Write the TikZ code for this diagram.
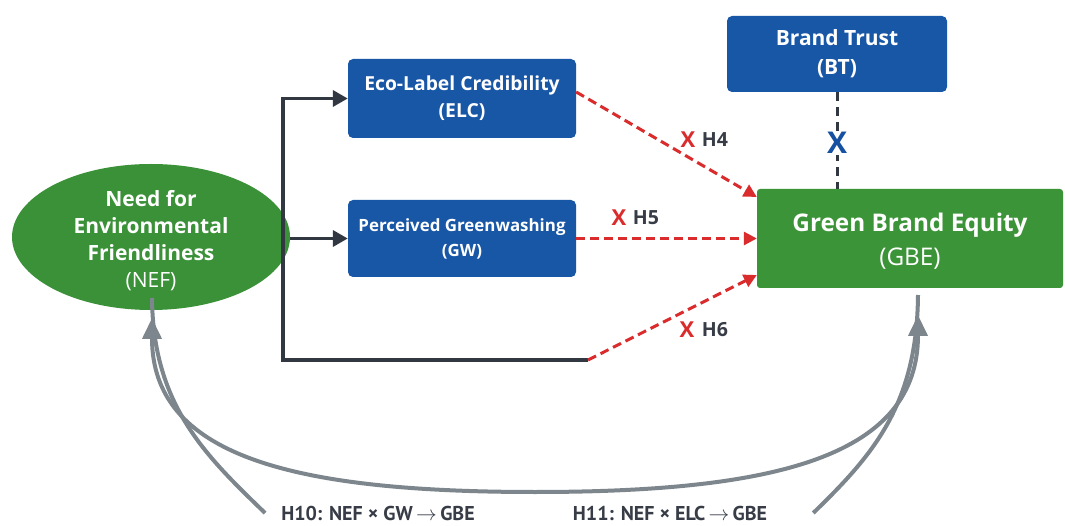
\documentclass[tikz,border=0pt]{standalone}
\usepackage{fontspec}
\setmainfont{Open Sans}
\newfontfamily\ptsans{PT Sans}
\usetikzlibrary{arrows.meta,shapes.geometric}
\definecolor{boxblue}{RGB}{24,86,166}
\definecolor{nefgreen}{RGB}{58,145,56}
\definecolor{gbegreen}{RGB}{60,148,56}
\definecolor{darkline}{RGB}{50,56,66}
\definecolor{redline}{RGB}{218,44,44}
\definecolor{grayline}{RGB}{125,134,140}
\definecolor{labeltext}{RGB}{55,60,70}
\definecolor{xblue}{RGB}{22,80,160}
\begin{document}
\begin{tikzpicture}[x=1pt,y=-1pt,
  bluebox/.style={fill=boxblue, rounded corners=5pt, text=white, align=center, inner sep=0pt},
  greenbox/.style={fill=gbegreen, rounded corners=3pt, text=white, align=center, inner sep=0pt},
  darkarrow/.style={draw=darkline, line width=3.5pt, line join=miter, -{Triangle[length=15pt,width=16pt]}},
  redarrow/.style={draw=redline, line width=3pt, dash pattern=on 9pt off 5pt, -{Triangle[length=13pt,width=13pt]}},
  grayarrow/.style={draw=grayline, line width=4pt},
  redx/.style={text=redline, font=\bfseries\fontsize{22}{22}\selectfont, inner sep=0pt},
  hlabel/.style={text=labeltext, font=\bfseries\fontsize{19.5}{19.5}\selectfont, inner sep=0pt},
  botlabel/.style={text=labeltext, font=\ptsans\bfseries\fontsize{20}{20}\selectfont, inner sep=0pt}
]
\useasboundingbox[fill=white] (0,0) rectangle (1065,526);

% nodes
\node[ellipse, fill=nefgreen, minimum width=278pt, minimum height=146pt, inner sep=0pt] (nef) at (151,237) {};
\node[text=white, align=center, inner sep=0pt, font=\fontsize{21}{27}\selectfont] (neftext) at (151,241)
  {\textbf{Need for}\\\textbf{Environmental}\\\textbf{Friendliness}\\(NEF)};

\node[bluebox, minimum width=228pt, minimum height=79pt, font=\bfseries\fontsize{19.3}{27}\selectfont] (elc) at (462,98.5)
  {Eco-Label Credibility\\(ELC)};
\node[bluebox, minimum width=228pt, minimum height=77pt, font=\bfseries\fontsize{16.9}{25}\selectfont] (gw) at (462,238.5)
  {Perceived Greenwashing\\(GW)};
\node[bluebox, minimum width=220pt, minimum height=76pt, font=\bfseries\fontsize{21}{29}\selectfont] (bt) at (837,54)
  {Brand Trust\\(BT)};
\node[greenbox, minimum width=306pt, minimum height=99pt] (gbe) at (910,238.5) {};
\node[text=white, align=center, inner sep=0pt, font=\fontsize{24.3}{34}\selectfont] (gbetext) at (910,241.5)
  {\textbf{Green Brand Equity}\\(GBE)};

% coordinates for the NEF spine
\coordinate (spinetop) at (283,98.5);
\coordinate (spinebot) at (283,360);
\coordinate (h6start) at (588,360);
\coordinate (nefin) at (152,318);
\coordinate (gbein) at (918,315);

% dark connectors
\draw[darkarrow] (h6start) -- (spinebot) -- (spinetop) -- (elc.west);
\draw[darkarrow] (nef.east |- gw.west) -- (gw.west);

% red dashed
\draw[redarrow] (elc.east |- 0,92) -- (gbe.west |- 0,197);
\draw[redarrow] (gw.east) -- (gbe.west);
\draw[redarrow] (h6start) -- (gbe.west |- 0,275);

\node[redx] (x4) at (688,140) {X};
\node[hlabel] (h4) at (715,140) {H4};
\node[redx] (x5) at (619,218) {X};
\node[hlabel] (h5) at (646,218) {H5};
\node[redx] (x6) at (687,330) {X};
\node[hlabel] (h6) at (715,330) {H6};

% BT -> GBE dashed
\draw[draw=darkline, line width=3pt, dash pattern=on 9pt off 6pt] (bt.south) -- (bt.south |- gbe.north);
\node[fill=white, text=xblue, font=\bfseries\fontsize{30}{30}\selectfont, inner sep=1pt] (xbt) at (837,143) {X};

% bottom labels
\node[botlabel] (l10) at (378,513) {H10: NEF \texttimes{} GW\,$\rightarrow$\,GBE};
\node[botlabel] (l11) at (670,513) {H11: NEF \texttimes{} ELC\,$\rightarrow$\,GBE};

% gray curves
\draw[grayarrow] (l10.west) ++(-16,0) .. controls (205,455) and (153,405) .. ([yshift=20pt]nefin);
\draw[grayarrow] (l11.east) ++(46,0) .. controls (873,455) and (917,405) .. ([yshift=20pt]gbein);
\draw[grayarrow, {Triangle[length=21pt,width=19pt]}-{Triangle[length=21pt,width=19pt]}]
  (nefin) .. controls (152,455) and (290,492) .. (535,492) .. controls (780,492) and (918,455) .. (gbein);
\end{tikzpicture}
\end{document}
